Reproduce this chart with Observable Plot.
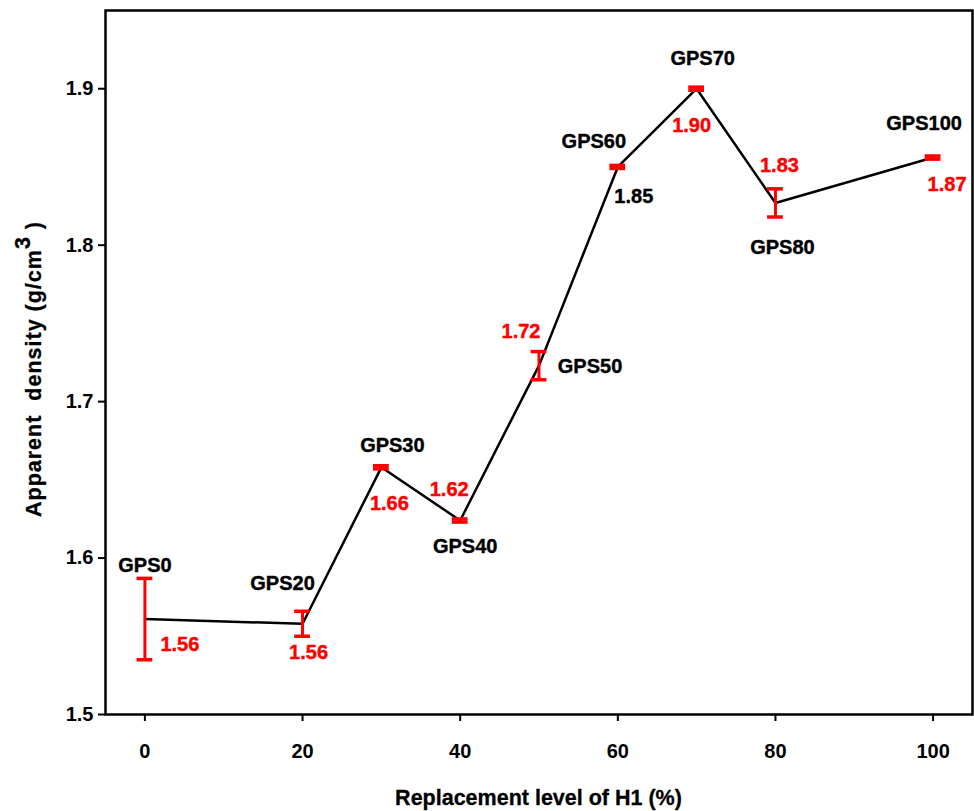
<!DOCTYPE html>
<html>
<head>
<meta charset="utf-8">
<script src="https://cdn.jsdelivr.net/npm/d3@7"></script>
<script src="https://cdn.jsdelivr.net/npm/@observablehq/plot@0.6"></script>
<style>
  html, body { margin: 0; padding: 0; background: #fff; }
  svg { display: block; }
</style>
</head>
<body>
<div id="chart"></div>
<script>
// ---- data ----
const samples = ["GPS0", "GPS20", "GPS30", "GPS40", "GPS50", "GPS60", "GPS70", "GPS80", "GPS100"];
const replacement = [0, 20, 30, 40, 50, 60, 70, 80, 100];
const density = [1.561, 1.558, 1.658, 1.624, 1.723, 1.850, 1.900, 1.827, 1.856];
const errors = [0.026, 0.008, 0.001, 0.001, 0.009, 0.001, 0.001, 0.009, 0.001];
const valueLabels = ["1.56", "1.56", "1.66", "1.62", "1.72", "1.85", "1.90", "1.83", "1.87"];
const xTicks = [0, 20, 40, 60, 80, 100];
const yTicks = [1.5, 1.6, 1.7, 1.8, 1.9];

const rows = samples.map((s, i) => ({
  name: s, x: replacement[i], y: density[i], e: errors[i], label: valueLabels[i]
}));

// ---- presentation ----
const font = "Liberation Sans, Arial, Helvetica, sans-serif";
const nameOffsets = [[0,-53],[-20,-40],[11,-22],[5,26],[51,1],[-24,-25],[6,-30],[7,45],[-9,-34]];
const valueOffsets = [[35,26],[6,29],[8,36],[-11,-31],[-18,-34],[16,30],[-5,37],[4,-37],[14,27]];
const valueColors = ["red","red","red","red","red","black","red","red","red"];

const labelMarks = [];
rows.forEach((d, i) => {
  labelMarks.push(Plot.text([d], {
    x: "x", y: "y", text: "name", dx: nameOffsets[i][0], dy: nameOffsets[i][1],
    fill: "black", stroke: "black", strokeWidth: 0.4,
    fontSize: 20, fontWeight: "bold", fontFamily: font
  }));
  labelMarks.push(Plot.text([d], {
    x: "x", y: "y", text: "label", dx: valueOffsets[i][0], dy: valueOffsets[i][1],
    fill: valueColors[i], stroke: valueColors[i], strokeWidth: 0.4,
    fontSize: 20, fontWeight: "bold", fontFamily: font
  }));
});

const chart = Plot.plot({
  width: 974,
  height: 811,
  marginTop: 10,
  marginBottom: 97,
  marginLeft: 105,
  marginRight: 2,
  style: { fontFamily: font, background: "white" },
  x: { domain: [-5, 105] },
  y: { domain: [1.5, 1.95] },
  marks: [
    Plot.line(rows, { x: "x", y: "y", stroke: "black", strokeWidth: 2.5 }),
    Plot.ruleX(rows, { x: "x", y1: d => d.y - d.e, y2: d => d.y + d.e, stroke: "red", strokeWidth: 3 }),
    Plot.ruleY(rows, { y: d => d.y + d.e, x1: d => d.x - 1, x2: d => d.x + 1, stroke: "red", strokeWidth: 3.5 }),
    Plot.ruleY(rows, { y: d => d.y - d.e, x1: d => d.x - 1, x2: d => d.x + 1, stroke: "red", strokeWidth: 3.5 }),
    ...labelMarks,
    Plot.axisY({ ticks: yTicks, tickFormat: d3.format(".1f"), tickSize: 7, tickPadding: 5,
      fontSize: 20, fontWeight: "bold", label: null, strokeWidth: 2 }),
    Plot.axisX({ ticks: xTicks, tickSize: 7, tickPadding: 22,
      fontSize: 20, fontWeight: "bold", label: null, strokeWidth: 2 }),
    Plot.frame({ stroke: "black", strokeWidth: 2.5 })
  ]
});

const svg = d3.select(chart);
// x axis title
svg.append("text")
  .attr("x", (105 + 972) / 2)
  .attr("y", 805)
  .attr("text-anchor", "middle")
  .attr("font-family", font)
  .attr("font-size", 21.5)
  .attr("font-weight", "bold")
  .attr("fill", "black")
  .attr("stroke", "black")
  .attr("stroke-width", 0.3)
  .text("Replacement level of H1 (%)");
// y axis title with superscript
const yt = svg.append("text")
  .attr("transform", "translate(41,369) rotate(-90)")
  .attr("text-anchor", "middle")
  .attr("font-family", font)
  .attr("font-size", 21.5)
  .attr("font-weight", "bold")
  .attr("letter-spacing", 1)
  .attr("fill", "black")
  .attr("stroke", "black")
  .attr("stroke-width", 0.3);
yt.append("tspan").text("Apparent  density (g/cm");
yt.append("tspan").attr("dy", -11).text("3");
yt.append("tspan").attr("dy", 11).text(" )");

document.getElementById("chart").appendChild(chart);
</script>
</body>
</html>
